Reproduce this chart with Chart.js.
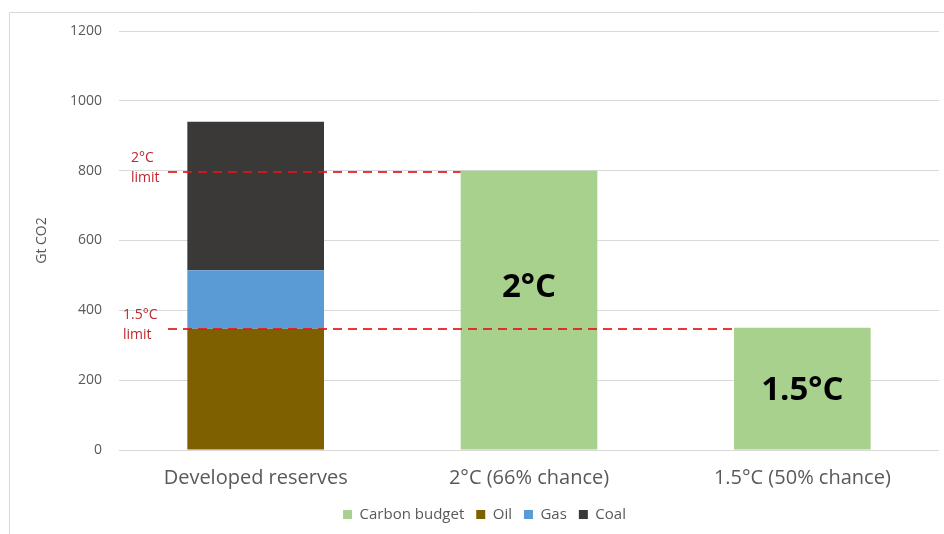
<!DOCTYPE html>
<html>
<head>
<meta charset="utf-8">
<script src="https://cdn.jsdelivr.net/npm/chart.js@4/dist/chart.umd.min.js"></script>
<style>
  html, body { margin: 0; padding: 0; background: #fff; }
  #wrap { width: 944px; height: 534px; position: relative; }
</style>
</head>
<body>
<div id="wrap"><canvas id="c" width="944" height="534"></canvas></div>
<script>
// Categories and series (Gt CO2)
const categories = ['Developed reserves', '2°C (66% chance)', '1.5°C (50% chance)'];
const carbonBudget = [null, 800, 350];
const oil = [347, null, null];
const gas = [168, null, null];
const coal = [425, null, null];
const yTicks = [0, 200, 400, 600, 800, 1000, 1200];

// Temperature limits drawn as dashed reference lines
const limitNames = ['2°C', '1.5°C'];
const limitValues = [800, 350];
const barTitles = ['', '2°C', '1.5°C'];

const FONT = "'Open Sans', 'DejaVu Sans', sans-serif";
const GREY = '#595959';

const framePlugin = {
  id: 'frame',
  beforeDraw(chart) {
    const ctx = chart.ctx;
    ctx.save();
    ctx.fillStyle = '#fff';
    ctx.fillRect(0, 0, chart.width, chart.height);
    ctx.strokeStyle = '#d9d9d9';
    ctx.lineWidth = 1;
    ctx.beginPath();
    ctx.moveTo(9.5, chart.height);
    ctx.lineTo(9.5, 12.5);
    ctx.lineTo(chart.width, 12.5);
    ctx.stroke();
    ctx.restore();
  }
};

const limitPlugin = {
  id: 'limits',
  afterDatasetsDraw(chart) {
    const ctx = chart.ctx;
    const y = chart.scales.y;
    const budgetBars = chart.getDatasetMeta(0).data;
    const startX = chart.chartArea.left + 49;
    ctx.save();
    // dashed limit lines, each ending at the left edge of its budget bar
    limitValues.forEach((v, i) => {
      const bar = budgetBars[i + 1];
      const endX = bar.x - bar.width / 2;
      const py = Math.round(y.getPixelForValue(v)) + 1;
      ctx.strokeStyle = 'rgba(228, 22, 22, 0.85)';
      ctx.lineWidth = 2;
      ctx.setLineDash([9, 6]);
      ctx.beginPath();
      ctx.moveTo(startX, py);
      ctx.lineTo(endX, py);
      ctx.stroke();
      // label to the left of the line
      ctx.setLineDash([]);
      ctx.fillStyle = '#c0262b';
      ctx.font = '14px ' + FONT;
      ctx.textAlign = 'left';
      ctx.textBaseline = 'middle';
      const lx = i === 0 ? chart.chartArea.left + 12 : chart.chartArea.left + 4;
      ctx.fillText(limitNames[i], lx, py - 14);
      ctx.fillText('limit', lx, py + 6);
    });
    // large titles inside the budget bars
    const titleValues = [0, 465, 169];
    ctx.fillStyle = '#000';
    ctx.font = 'bold 33px ' + FONT;
    ctx.textAlign = 'center';
    ctx.textBaseline = 'middle';
    barTitles.forEach((t, i) => {
      if (!t) return;
      const bar = budgetBars[i];
      ctx.fillText(t, bar.x, y.getPixelForValue(titleValues[i]));
    });
    ctx.restore();
  }
};

new Chart(document.getElementById('c'), {
  type: 'bar',
  data: {
    labels: categories,
    datasets: [
      { label: 'Carbon budget', data: carbonBudget, backgroundColor: '#a9d18e' },
      { label: 'Oil', data: oil, backgroundColor: '#7f6000' },
      { label: 'Gas', data: gas, backgroundColor: '#5b9bd5' },
      { label: 'Coal', data: coal, backgroundColor: '#3b3838' }
    ]
  },
  options: {
    responsive: false,
    animation: false,
    devicePixelRatio: 1,
    layout: { padding: { left: 30, right: 5, top: 31, bottom: 2 } },
    datasets: { bar: { barPercentage: 0.5, categoryPercentage: 1.0 } },
    scales: {
      x: {
        stacked: true,
        grid: { display: false, drawTicks: false },
        border: { display: false },
        ticks: { color: GREY, font: { family: FONT, size: 20 }, padding: 16 },
        afterFit(s) { s.height = 45; }
      },
      y: {
        stacked: true,
        min: 0,
        max: 1200,
        afterBuildTicks(s) { s.ticks = yTicks.map(v => ({ value: v })); },
        grid: { color: '#d9d9d9', drawTicks: false },
        border: { display: false },
        ticks: { color: GREY, font: { family: FONT, size: 14 }, padding: 17, callback: v => String(v) },
        title: { display: true, text: 'Gt CO2', color: GREY, font: { family: FONT, size: 14 } },
        afterFit(s) { s.width = 89; }
      }
    },
    plugins: {
      legend: {
        position: 'bottom',
        labels: { color: GREY, font: { family: FONT, size: 15 }, boxWidth: 9, boxHeight: 9, padding: 12 }
      },
      tooltip: { enabled: false }
    }
  },
  plugins: [framePlugin, limitPlugin]
});
</script>
</body>
</html>
